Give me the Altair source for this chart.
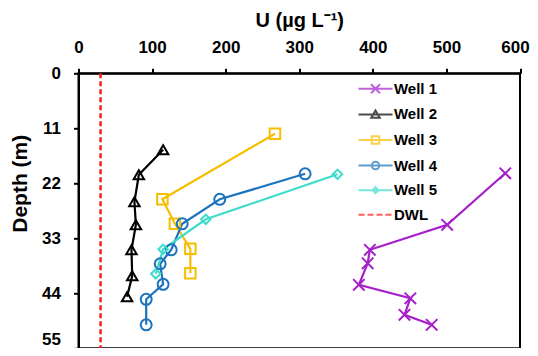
import altair as alt
import pandas as pd

# ---- data ----
well1_u = [580, 501, 396, 393, 381, 451, 443, 480]
well1_d = [20.0, 30.3, 35.3, 38.0, 42.3, 45.0, 48.3, 50.3]
well2_u = [115, 82, 76, 78, 72, 73, 66]
well2_d = [15.3, 20.3, 25.7, 30.3, 35.3, 40.5, 44.7]
well3_u = [267, 114, 131, 152, 152]
well3_d = [12.1, 25.2, 30.1, 35.1, 40.0]
well4_u = [308, 192, 141, 126, 111, 115, 92, 92]
well4_d = [20.1, 25.2, 30.1, 35.3, 38.1, 42.2, 45.2, 50.3]
well5_u = [352, 173, 115, 105]
well5_d = [20.2, 29.2, 35.2, 40.1]
dwl_value = 30

wells = ["Well 1", "Well 2", "Well 3", "Well 4", "Well 5"]
legend_names = wells + ["DWL"]
colors = ["#A61FCB", "#000000", "#F7BE00", "#1C73BE", "#3FDCCB"]
dwl_color = "#FF1A1A"

x_ticks = list(range(0, 601, 50))
y_ticks = [i * 5.5 for i in range(11)]

series = [(well1_u, well1_d), (well2_u, well2_d), (well3_u, well3_d),
          (well4_u, well4_d), (well5_u, well5_d)]
rows = []
for name, (us, ds) in zip(wells, series):
    for i, (u, d) in enumerate(zip(us, ds)):
        rows.append({"Well": name, "U": u, "Depth": d, "i": i})
df = pd.DataFrame(rows)

FONT = "Liberation Sans"

x_enc = alt.X("U:Q", scale=alt.Scale(domain=[0, 600], nice=False),
              axis=alt.Axis(orient="top", values=x_ticks,
                            labelExpr="datum.value % 100 == 0 ? datum.label : ''",
                            labelOffset={"condition": {"test": "datum.value == 600", "value": -5},
                                         "value": 0},
                            title="U (µg L⁻¹)", titleFontSize=20, titlePadding=8,
                            labelFontSize=17, labelPadding=12, grid=False))
y_enc = alt.Y("Depth:Q", scale=alt.Scale(domain=[0, 55], reverse=True, nice=False),
              axis=alt.Axis(values=y_ticks,
                            labelExpr="datum.value % 11 == 0 ? datum.label : ''",
                            labelBaseline={"condition": {"test": "datum.value == 55", "value": "bottom"},
                                           "value": "middle"},
                            title="Depth (m)", titleFontSize=21,
                            titleX=-58, titleY=110, titleBaseline="middle", titleAlign="center",
                            labelFontSize=17, labelPadding=13, grid=False))

color_scale = alt.Scale(domain=wells, range=colors)

lines = alt.Chart(df).mark_line(strokeWidth=2.2).encode(
    x=x_enc, y=y_enc,
    color=alt.Color("Well:N", scale=color_scale, legend=None),
    order="i:Q",
)

dwl = alt.Chart(pd.DataFrame({"v": [dwl_value]})).mark_rule(
    color=dwl_color, strokeWidth=2.5, strokeDash=[5, 3]).encode(x="v:Q")

x_path = "M-1,-1L1,1M-1,1L1,-1"
point_specs = [
    ("Well 1", x_path, 130),
    ("Well 2", "triangle-up", 110),
    ("Well 3", "square", 110),
    ("Well 4", "circle", 120),
    ("Well 5", "diamond", 90),
]
point_layers = []
for name, shp, sz in point_specs:
    point_layers.append(
        alt.Chart(df).transform_filter(alt.datum.Well == name).mark_point(
            shape=shp, size=sz, filled=False, strokeWidth=2, opacity=1).encode(
            x="U:Q", y="Depth:Q",
            color=alt.Color("Well:N", scale=color_scale, legend=None))
    )

line_part = "M-3.4,0H3.4"
legend_paths = [
    line_part + "M-0.9,-0.9L0.9,0.9M-0.9,0.9L0.9,-0.9",
    line_part + "M0,-0.8L0.85,0.65L-0.85,0.65Z",
    line_part + "M-0.75,-0.75H0.75V0.75H-0.75Z",
    line_part + "M-0.75,0A0.75,0.75 0 1,0 0.75,0A0.75,0.75 0 1,0 -0.75,0",
    line_part + "M0,-0.6L0.6,0L0,0.6L-0.6,0Z",
    "M-3.4,0H-2.2M-1.6,0H-0.4M0.2,0H1.4M2.0,0H3.2",
]

legend_kw = dict(title=None, orient="none", legendX=289.5, legendY=8,
                 symbolSize=100, symbolStrokeWidth=2, labelFontSize=15,
                 labelOffset=11, rowPadding=8.6, padding=0)

legend_layer = alt.Chart(pd.DataFrame({"Well": legend_names})).transform_filter(
    "false").mark_point(filled=False, size=100, strokeWidth=2).encode(
    x="U:Q", y="Depth:Q",
    shape=alt.Shape("Well:N", scale=alt.Scale(domain=legend_names, range=legend_paths),
                    legend=alt.Legend(symbolFillColor="transparent", **legend_kw)),
    stroke=alt.Stroke("Well:N", scale=alt.Scale(domain=legend_names, range=colors + [dwl_color]),
                      legend=alt.Legend(**legend_kw)),
)

chart = alt.layer(dwl, lines, *point_layers, legend_layer).properties(
    width=441.5, height=275,
    autosize=alt.AutoSizeParams(type="none"),
    padding={"left": 70.5, "top": 65.3, "right": 10, "bottom": 0},
).configure_view(stroke="black", strokeWidth=2).configure_axis(
    labelFont=FONT, titleFont=FONT, labelFontWeight="bold", titleFontWeight="bold",
    labelColor="black", titleColor="black", domainColor="black", domainWidth=2,
    tickColor="black", tickWidth=2, tickSize=5, labelFlush=False, labelOverlap=False,
).configure_legend(labelFont=FONT, labelFontWeight="bold", labelColor="black")

chart.save("out.html", embed_options={"renderer": "svg", "actions": False})
